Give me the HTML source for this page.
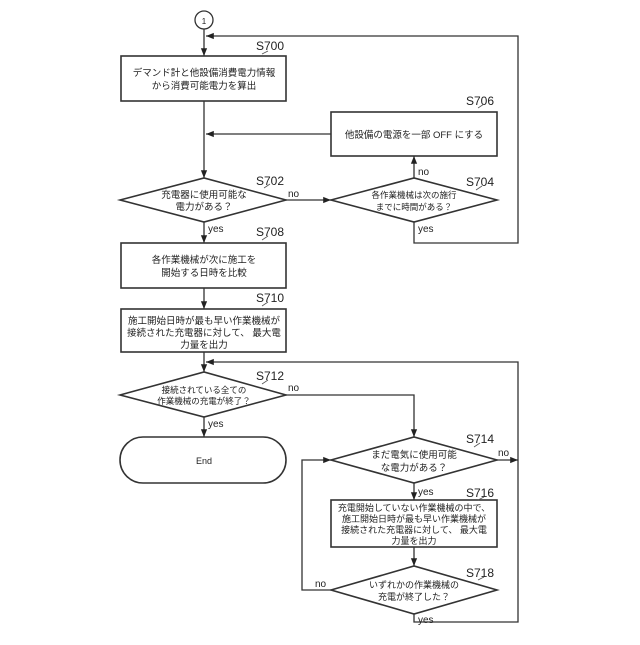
<!DOCTYPE html>
<html><head><meta charset="utf-8"><style>
html,body{margin:0;padding:0;background:#fff}
text{font-family:"Liberation Sans","Noto Sans CJK JP",sans-serif;fill:#222}
</style></head><body>
<svg width="640" height="640" viewBox="0 0 640 640" xmlns="http://www.w3.org/2000/svg">
<defs><marker id="a" viewBox="0 0 10 10" refX="10" refY="5" markerWidth="6" markerHeight="6" orient="auto"><path d="M0,1 L10,5 L0,9 z" fill="#222"/></marker></defs>
<g stroke="#333" stroke-width="1.3" fill="none">
<circle cx="204" cy="20" r="9"/>
<line x1="204" y1="29" x2="204" y2="56" marker-end="url(#a)"/>
<polyline points="414,222 414,243 518,243 518,36 206,36" marker-end="url(#a)"/>
<rect x="121" y="56" width="165" height="45" stroke-width="1.6"/>
<line x1="204" y1="101" x2="204" y2="178" marker-end="url(#a)"/>
<rect x="331" y="112" width="166" height="44" stroke-width="1.6"/>
<line x1="331" y1="134" x2="206" y2="134" marker-end="url(#a)"/>
<polygon points="120,200 204,178 286,200 204,222" stroke-width="1.6"/>
<polygon points="331,200 414,178 497,200 414,222" stroke-width="1.6"/>
<line x1="286" y1="200" x2="331" y2="200" marker-end="url(#a)"/>
<line x1="414" y1="178" x2="414" y2="156" marker-end="url(#a)"/>
<line x1="204" y1="222" x2="204" y2="243" marker-end="url(#a)"/>
<rect x="121" y="243" width="165" height="45" stroke-width="1.6"/>
<line x1="204" y1="288" x2="204" y2="309" marker-end="url(#a)"/>
<rect x="121" y="309" width="165" height="43" stroke-width="1.6"/>
<line x1="204" y1="352" x2="204" y2="372" marker-end="url(#a)"/>
<polyline points="414,614 414,622 518,622 518,362 206,362" marker-end="url(#a)"/>
<polygon points="120,395 204,372 286,395 204,417" stroke-width="1.6"/>
<line x1="204" y1="417" x2="204" y2="437" marker-end="url(#a)"/>
<rect x="120" y="437" width="166" height="46" rx="23" stroke-width="1.6"/>
<polyline points="286,395 414,395 414,437" marker-end="url(#a)"/>
<polygon points="331,460 414,437 497,460 414,483" stroke-width="1.6"/>
<line x1="497" y1="460" x2="518" y2="460" marker-end="url(#a)"/>
<line x1="414" y1="483" x2="414" y2="500" marker-end="url(#a)"/>
<rect x="331" y="500" width="166" height="47" stroke-width="1.6"/>
<line x1="414" y1="547" x2="414" y2="566" marker-end="url(#a)"/>
<polygon points="331,590 414,566 497,590 414,614" stroke-width="1.6"/>
<polyline points="331,590 302,590 302,460 331,460" marker-end="url(#a)"/>
</g>
<g font-size="9.5" text-anchor="middle">
<text x="204" y="24" font-size="8">1</text>
<text x="204" y="76">デマンド計と他設備消費電力情報</text>
<text x="204" y="89">から消費可能電力を算出</text>
<text x="414" y="138">他設備の電源を一部 OFF にする</text>
<text x="204" y="198">充電器に使用可能な</text>
<text x="204" y="210">電力がある？</text>
<text x="414" y="198" font-size="8.5">各作業機械は次の施行</text>
<text x="414" y="210" font-size="8.5">までに時間がある？</text>
<text x="204" y="263">各作業機械が次に施工を</text>
<text x="204" y="276">開始する日時を比較</text>
<text x="204" y="324">施工開始日時が最も早い作業機械が</text>
<text x="204" y="336">接続された充電器に対して、 最大電</text>
<text x="204" y="348">力量を出力</text>
<text x="204" y="393" font-size="8.5">接続されている全ての</text>
<text x="204" y="404" font-size="8.5">作業機械の充電が終了？</text>
<text x="204" y="464" font-size="9">End</text>
<text x="414" y="458">まだ電気に使用可能</text>
<text x="414" y="471">な電力がある？</text>
<g font-size="9">
<text x="414" y="511">充電開始していない作業機械の中で、</text>
<text x="414" y="522">施工開始日時が最も早い作業機械が</text>
<text x="414" y="533">接続された充電器に対して、 最大電</text>
<text x="414" y="544">力量を出力</text>
</g>
<text x="414" y="588" font-size="9">いずれかの作業機械の</text>
<text x="414" y="600" font-size="9">充電が終了した？</text>
</g>
<g font-size="12">
<text x="256" y="50">S700</text>
<text x="466" y="105">S706</text>
<text x="256" y="185">S702</text>
<text x="466" y="186">S704</text>
<text x="256" y="236">S708</text>
<text x="256" y="302">S710</text>
<text x="256" y="380">S712</text>
<text x="466" y="443">S714</text>
<text x="466" y="497">S716</text>
<text x="466" y="577">S718</text>
</g>
<g font-size="10">
<text x="288" y="197">no</text>
<text x="418" y="175">no</text>
<text x="418" y="232">yes</text>
<text x="208" y="232">yes</text>
<text x="288" y="391">no</text>
<text x="208" y="427">yes</text>
<text x="498" y="456">no</text>
<text x="418" y="495">yes</text>
<text x="315" y="587">no</text>
<text x="418" y="623">yes</text>
</g>
<g stroke="#555" stroke-width="0.8" fill="none">
<path d="M262,54 L268,51"/><path d="M478,108 L484,104"/><path d="M264,188 L270,184"/><path d="M476,190 L482,186"/><path d="M262,240 L268,236"/><path d="M262,306 L268,302"/><path d="M262,384 L268,380"/><path d="M474,447 L480,443"/><path d="M478,500 L484,497"/><path d="M478,580 L484,577"/>
</g>
</svg>
</body></html>
